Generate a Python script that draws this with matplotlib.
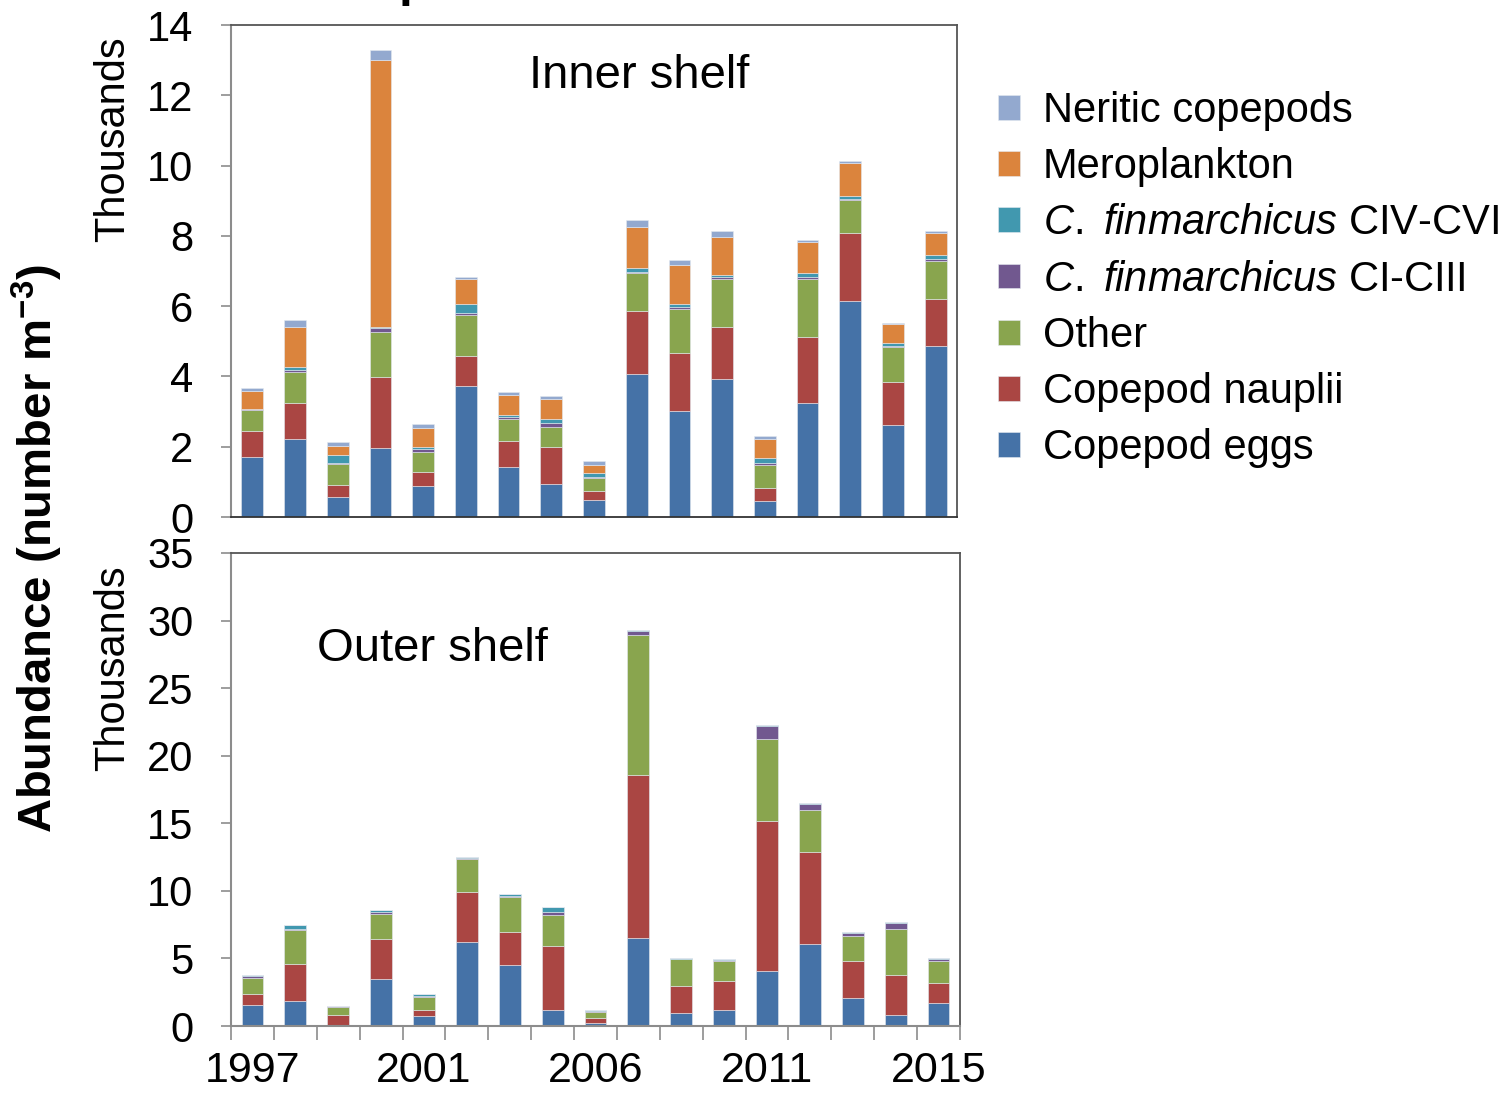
import matplotlib
matplotlib.use('Agg')
import matplotlib.pyplot as plt
import matplotlib.patches as mpatches
import numpy as np

# categories (17 sampled years, labelled every 4th as in the original)
year_labels = ['1997', '', '', '', '2001', '', '', '', '2006',
               '', '', '', '2011', '', '', '', '2015']

# Inner shelf (thousands per m3)
inner_eggs = [1.70, 2.21, 0.56, 1.95, 0.89, 3.74, 1.43, 0.93, 0.48, 4.07, 3.01, 3.92, 0.46, 3.23, 6.14, 2.61, 4.87]
inner_nauplii = [0.76, 1.02, 0.34, 2.04, 0.40, 0.84, 0.73, 1.06, 0.26, 1.78, 1.65, 1.50, 0.36, 1.89, 1.93, 1.24, 1.34]
inner_other = [0.59, 0.91, 0.61, 1.28, 0.55, 1.17, 0.63, 0.58, 0.38, 1.08, 1.27, 1.34, 0.66, 1.64, 0.96, 0.98, 1.07]
inner_ci = [0.01, 0.05, 0.04, 0.10, 0.10, 0.06, 0.05, 0.11, 0.03, 0.05, 0.04, 0.08, 0.05, 0.06, 0.03, 0.04, 0.06]
inner_civ = [0.02, 0.09, 0.21, 0.05, 0.04, 0.26, 0.06, 0.11, 0.11, 0.11, 0.10, 0.04, 0.16, 0.11, 0.07, 0.07, 0.11]
inner_mero = [0.51, 1.14, 0.27, 7.58, 0.56, 0.69, 0.58, 0.56, 0.22, 1.16, 1.09, 1.09, 0.52, 0.90, 0.95, 0.55, 0.62]
inner_neritic = [0.08, 0.19, 0.10, 0.29, 0.11, 0.08, 0.08, 0.10, 0.11, 0.19, 0.15, 0.18, 0.10, 0.06, 0.04, 0.04, 0.08]

# Outer shelf (thousands per m3)
outer_eggs = [1.55, 1.85, 0.07, 3.45, 0.72, 6.22, 4.52, 1.18, 0.25, 6.54, 0.94, 1.21, 4.05, 6.05, 2.07, 0.81, 1.68]
outer_nauplii = [0.80, 2.76, 0.74, 2.99, 0.46, 3.72, 2.46, 4.77, 0.37, 12.04, 2.00, 2.10, 11.10, 6.83, 2.76, 2.96, 1.53]
outer_other = [1.23, 2.47, 0.62, 1.87, 0.99, 2.45, 2.57, 2.27, 0.44, 10.32, 2.02, 1.52, 6.07, 3.13, 1.85, 3.41, 1.58]
outer_ci = [0.12, 0.10, 0.02, 0.10, 0.03, 0.03, 0.05, 0.19, 0.02, 0.34, 0.02, 0.03, 0.99, 0.40, 0.18, 0.42, 0.17]
outer_civ = [0.07, 0.27, 0.05, 0.18, 0.15, 0.09, 0.15, 0.37, 0.10, 0.07, 0.05, 0.07, 0.07, 0.07, 0.07, 0.08, 0.07]
outer_mero = [0.0] * 17
outer_neritic = [0.0] * 17

colors = ['#4572A7', '#AA4643', '#89A54E', '#71588F', '#4198AF', '#DB843D', '#93A9CF']
legend_labels = ['Copepod eggs', 'Copepod nauplii', 'Other',
                 r'$\it{C.}$ $\it{finmarchicus}$ CI-CIII',
                 r'$\it{C.}$ $\it{finmarchicus}$ CIV-CVI',
                 'Meroplankton', 'Neritic copepods']

plt.rcParams['font.family'] = ['Liberation Sans', 'DejaVu Sans']
plt.rcParams['mathtext.fontset'] = 'custom'
plt.rcParams['mathtext.rm'] = 'Liberation Sans'
plt.rcParams['mathtext.it'] = 'Liberation Sans:italic'
plt.rcParams['mathtext.bf'] = 'Liberation Sans:bold'

AXIS_GREY = '#8c8c8c'
W, H = 1506, 1096


def draw_panel(ax, series, ymax, step, xlabels):
    x = np.arange(len(year_labels))
    bottom = np.zeros(len(x))
    for vals, color in zip(series, colors):
        ax.bar(x, vals, width=0.51, bottom=bottom, color=color,
               edgecolor='#e4e9f0', linewidth=0.4, zorder=2)
        bottom += np.array(vals)
    ax.set_xlim(-0.5, len(x) - 0.5)
    ax.set_ylim(0, ymax)
    ax.set_yticks(np.arange(0, ymax + 0.1, step))
    ax.tick_params(axis='y', direction='out', length=7, width=1.2,
                   color=AXIS_GREY, labelsize=30, pad=20)
    ax.spines['left'].set_color(AXIS_GREY)
    ax.spines['left'].set_linewidth(1.5)
    for side in ('top', 'right'):
        ax.spines[side].set_color('#555555')
        ax.spines[side].set_linewidth(1.3)
    if xlabels:
        ax.spines['bottom'].set_color(AXIS_GREY)
        ax.spines['bottom'].set_linewidth(1.5)
        ax.set_xticks(x)
        ax.set_xticklabels(year_labels, fontsize=31)
        ax.set_xticks(np.arange(-0.5, len(x)), minor=True)
        ax.tick_params(axis='x', which='major', length=0, pad=18)
        ax.tick_params(axis='x', which='minor', direction='out', length=10,
                       width=1.2, color=AXIS_GREY)
    else:
        ax.spines['bottom'].set_color('#333333')
        ax.spines['bottom'].set_linewidth(1.3)
        ax.set_xticks([])


fig = plt.figure(figsize=(W / 100, H / 100), dpi=100)

ax_top = fig.add_axes([231 / W, 1 - 517 / H, (957 - 231) / W, (517 - 25) / H])
draw_panel(ax_top, [inner_eggs, inner_nauplii, inner_other, inner_ci,
                    inner_civ, inner_mero, inner_neritic], 14, 2, False)
ax_top.text(0.562, 0.897, 'Inner shelf', transform=ax_top.transAxes,
            fontsize=34, ha='center', va='center')

ax_bot = fig.add_axes([231 / W, 1 - 1026 / H, (960 - 231) / W, (1026 - 553) / H])
draw_panel(ax_bot, [outer_eggs, outer_nauplii, outer_other, outer_ci,
                    outer_civ, outer_mero, outer_neritic], 35, 5, True)
ax_bot.text(0.276, 0.797, 'Outer shelf', transform=ax_bot.transAxes,
            fontsize=34, ha='center', va='center')

# display-unit labels
fig.text(113 / W, 1 - 139 / H, 'Thousands', rotation=90,
         fontsize=30, ha='center', va='center')
fig.text(113 / W, 1 - 668 / H, 'Thousands', rotation=90,
         fontsize=30, ha='center', va='center')
fig.text(37 / W, 1 - 548 / H, r'Abundance (number m$^{\mathbf{-3}}$)',
         rotation=90, fontweight='bold', fontsize=34,
         ha='center', va='center')

# descender of the cut-off title
fig.text(399 / W, 1 + 4 / H, 'p', fontweight='bold', fontsize=36,
         ha='left', va='baseline')

handles = [mpatches.Patch(facecolor=c, edgecolor='#e4e9f0', linewidth=0.4)
           for c in colors]
fig.legend(handles[::-1], legend_labels[::-1], loc='upper left',
           bbox_to_anchor=(998 / W, 1 - 91 / H), frameon=False,
           fontsize=30, handlelength=0.53, handleheight=0.53,
           handletextpad=0.55, labelspacing=0.39, borderaxespad=0,
           borderpad=0)

fig.savefig('out.png', dpi=100)
